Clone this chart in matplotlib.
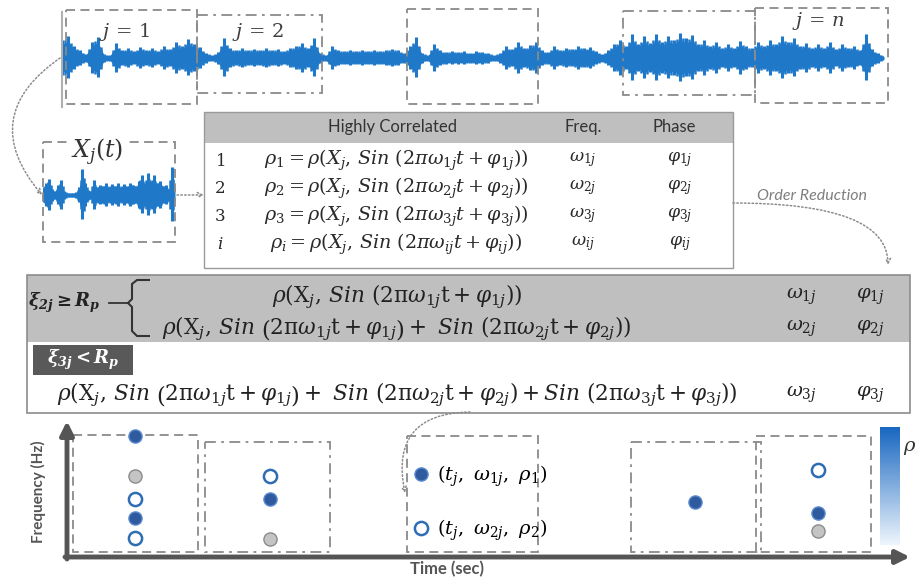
import numpy as np
import matplotlib.pyplot as plt
from matplotlib.patches import Rectangle, FancyArrowPatch, PathPatch
from matplotlib.path import Path
from matplotlib.lines import Line2D
from matplotlib.colors import LinearSegmentedColormap
from matplotlib.colorbar import ColorbarBase

plt.rcParams['mathtext.fontset'] = 'custom'
plt.rcParams['mathtext.rm'] = 'DejaVu Serif'
plt.rcParams['mathtext.it'] = 'DejaVu Serif:italic'
plt.rcParams['mathtext.bf'] = 'DejaVu Serif:italic:bold'
plt.rcParams['font.family'] = ['Lato', 'DejaVu Sans']

# ---- data -------------------------------------------------------------
# envelope of the full recording (half amplitude, one sample every 6 px)
signal_amp = [18, 22, 12, 8, 4, 16, 21, 4, 3, 15, 8, 10, 7, 11, 8, 10, 7, 12, 9, 16,
              12, 19, 14, 11, 5, 3, 6, 20, 10, 8, 10, 8, 9, 8, 10, 8, 9, 7, 10, 12,
              15, 10, 20, 5, 3, 12, 8, 7, 8, 7, 8, 7, 8, 7, 8, 9, 8, 5, 12, 21,
              5, 3, 14, 8, 6, 7, 6, 7, 5, 7, 6, 5, 3, 5, 12, 9, 16, 10, 13, 16,
              8, 6, 12, 8, 10, 9, 12, 10, 11, 7, 4, 8, 14, 18, 12, 24, 14, 22, 15, 24,
              16, 22, 18, 25, 20, 23, 14, 18, 12, 16, 10, 14, 10, 17, 12, 10, 16, 12, 18, 14,
              22, 16, 20, 12, 15, 10, 14, 10, 16, 9, 14, 10, 12, 8, 24, 9, 5, 2]
# envelope of one window X_j(t) (one sample every 3 px)
window_amp = [8, 12, 16, 6, 4, 10, 15, 4, 2, 2, 2, 3, 8, 26, 12, 5, 4, 15, 8, 10,
              9, 12, 8, 11, 9, 12, 8, 11, 9, 12, 10, 9, 14, 20, 12, 22, 14, 20, 12, 14,
              9, 10, 6, 28, 8]

row_ids = ['1', '2', '3', 'i']
row_formulas = [r'$\rho_1 = \rho(X_j,\,Sin\ (2\pi\omega_{1j}t + \varphi_{1j}))$',
                r'$\rho_2 = \rho(X_j,\,Sin\ (2\pi\omega_{2j}t + \varphi_{2j}))$',
                r'$\rho_3 = \rho(X_j,\,Sin\ (2\pi\omega_{3j}t + \varphi_{3j}))$',
                r'$\rho_i = \rho(X_j,\,Sin\ (2\pi\omega_{ij}t + \varphi_{ij}))$']
row_freq = [r'$\omega_{1j}$', r'$\omega_{2j}$', r'$\omega_{3j}$', r'$\omega_{ij}$']
row_phase = [r'$\varphi_{1j}$', r'$\varphi_{2j}$', r'$\varphi_{3j}$', r'$\varphi_{ij}$']

red_formulas = [r'$\rho(\mathrm{X}_j,\,Sin\ (2\mathrm{\pi}\omega_{1j}\mathrm{t} + \varphi_{1j}))$',
                r'$\rho(\mathrm{X}_j,\,Sin\ \left(2\mathrm{\pi}\omega_{1j}\mathrm{t} + \varphi_{1j}\right) +\ Sin\ (2\mathrm{\pi}\omega_{2j}\mathrm{t} + \varphi_{2j}))$',
                r'$\rho(\mathrm{X}_j,\,Sin\ \left(2\mathrm{\pi}\omega_{1j}\mathrm{t} + \varphi_{1j}\right) +\ Sin\ (2\mathrm{\pi}\omega_{2j}\mathrm{t} + \varphi_{2j}) + Sin\ (2\mathrm{\pi}\omega_{3j}\mathrm{t} + \varphi_{3j}))$']
red_freq = [r'$\omega_{1j}$', r'$\omega_{2j}$', r'$\omega_{3j}$']
red_phase = [r'$\varphi_{1j}$', r'$\varphi_{2j}$', r'$\varphi_{3j}$']

# time-frequency points (time in s, frequency in Hz, kind)
dot_time = [0.81, 0.81, 0.81, 0.81, 0.81, 2.42, 2.42, 2.42, 7.49, 8.95, 8.95, 8.95]
dot_freq = [92, 62, 44, 30, 15, 62, 44, 14, 42, 66, 34, 20]
dot_kind = ['rho1', 'gray', 'rho2', 'rho1', 'rho2',
            'rho2', 'rho1', 'gray',
            'rho1',
            'rho2', 'rho1', 'gray']

# ---- styles -----------------------------------------------------------
W, H = 918, 580
BLUE_SIG = '#1f78c8'
DOT_BLUE = '#2f5a9e'
OPEN_BLUE = '#2e6db4'
BOX_GRAY = '#8a8a8a'
AX_GRAY = '#555555'
TXT = '#2a2a2a'
DASH = (0, (5, 3))
DASHDOT = (0, (6, 3, 1.5, 3))

fig = plt.figure(figsize=(W / 100, H / 100), dpi=100, facecolor='white')
ax = fig.add_axes([0, 0, 1, 1])
ax.set_xlim(0, W)
ax.set_ylim(H, 0)
ax.axis('off')
ax.set_zorder(2)


def px_axes(x0, y0, x1, y1):
    return fig.add_axes([x0 / W, 1 - y1 / H, (x1 - x0) / W, (y1 - y0) / H])


def box(x0, y0, x1, y1, ls, color=BOX_GRAY, lw=1.3):
    ax.add_patch(Rectangle((x0, y0), x1 - x0, y1 - y0, fill=False, ls=ls,
                           ec=color, lw=lw))


def dotted_arrow(p0, p1, style):
    ax.add_patch(FancyArrowPatch(p0, p1, connectionstyle=style, arrowstyle='->',
                                 mutation_scale=9, lw=1.1, ls=(0, (1, 1.5)),
                                 color='#8c8c8c', shrinkA=0, shrinkB=0))


def draw_signal(a, amp, step):
    amp = np.array(amp, dtype=float)
    t = np.arange(len(amp)) * step
    nxt = np.roll(amp, -1)
    # body of the bursts plus the individual spikes
    a.fill_between(t, -amp * 0.75, amp * 0.7, color=BLUE_SIG, lw=0)
    a.vlines(t, -amp, amp * 0.92, color=BLUE_SIG, lw=2.2)
    a.vlines(t + step / 2, -(amp + nxt) * 0.45, (amp + nxt) * 0.42, color=BLUE_SIG, lw=1.8)
    a.plot(t, np.zeros_like(t), color=BLUE_SIG, lw=1.2)
    a.set_xlim(t[0], t[-1])
    a.axis('off')


# ---- top signal and windows --------------------------------------------
ax_sig = px_axes(62, 18, 884, 98)
ax_sig.set_ylim(40, -40)
draw_signal(ax_sig, signal_amp, 6)
ax_sig.set_zorder(1)

ax.plot([62, 62], [12, 107], color='#b0b0b0', lw=1.5)
box(66, 10, 197, 104, DASH)
box(197, 15, 322, 93, DASHDOT)
box(407, 9, 538, 104, DASH)
box(623, 11, 755, 95, DASHDOT)
box(755, 8, 888, 103, DASH)
for x, y, s in [(125, 32, r'$j\,=\,1$'), (258, 32, r'$j\,=\,2$'), (818, 21, r'$j\,=\,n$')]:
    ax.text(x, y, s, fontsize=14, color='#404040', ha='center', va='center')

# ---- selected window X_j(t) ------------------------------------------------
ax_win = px_axes(43, 160, 175, 230)
ax_win.set_ylim(35, -35)
draw_signal(ax_win, window_amp, 3)
ax_win.set_zorder(1)
box(43, 142, 175, 242, DASH)
ax.text(97, 152, '$X_j(t)$', fontsize=17, color='#333333', ha='center', va='center',
        bbox=dict(fc='white', ec='none', pad=1))

dotted_arrow((60, 58), (42, 195), 'arc3,rad=0.55')
dotted_arrow((177, 195), (204, 195), 'arc3,rad=0')

# ---- correlation table -----------------------------------------------------
ax.add_patch(Rectangle((204, 112), 529, 31, fc='#bfbfbf', ec='none'))
ax.add_patch(Rectangle((204, 112), 529, 156, fill=False, ec='#9a9a9a', lw=1))
ax.text(392, 127, 'Highly Correlated', fontsize=12, ha='center', va='center', color='#333333')
ax.text(583, 127, 'Freq.', fontsize=12, ha='center', va='center', color='#333333')
ax.text(674, 127, 'Phase', fontsize=12, ha='center', va='center', color='#333333')
for k, y in enumerate([160, 188, 216, 244]):
    ax.text(220, y, '$' + row_ids[k] + '$', fontsize=12, ha='center', va='center', color=TXT)
    ax.text(396, y, row_formulas[k], fontsize=13.8, ha='center', va='center', color=TXT)
    ax.text(583, y, row_freq[k], fontsize=12.5, ha='center', va='center', color=TXT)
    ax.text(680, y, row_phase[k], fontsize=12.5, ha='center', va='center', color=TXT)

ax.text(812, 196, 'Order Reduction', fontsize=11.5, style='italic', color='#7f7f7f',
        ha='center', va='center')
dotted_arrow((733, 203), (888, 265), 'angle3,angleA=0,angleB=90')

# ---- order reduction box -------------------------------------------------------
ax.add_patch(Rectangle((27, 275), 883, 67, fc='#bfbfbf', ec='none'))
ax.add_patch(Rectangle((27, 275), 883, 138, fill=False, ec='#8c8c8c', lw=1.2))
ax.text(28, 303, r'$\mathbf{\xi_{2j} \geq R_p}$', fontsize=13, ha='left', va='center', color='#222222')
ax.plot([109, 128], [303, 303], color='#333333', lw=1.3)
brace = Path([(150, 280), (137, 280), (132, 284), (132, 299), (128, 303), (132, 307),
              (132, 331), (137, 336), (150, 336)])
ax.add_patch(PathPatch(brace, fill=False, ec='#333333', lw=1.5))
ax.add_patch(Rectangle((33, 345), 100, 30, fc='#595959', ec='none'))
ax.text(83, 360, r'$\mathbf{\xi_{3j} < R_p}$', fontsize=13, ha='center', va='center', color='white')
for k, y in enumerate([297, 329, 395]):
    ax.text(397, y, red_formulas[k], fontsize=15.6, ha='center', va='center', color='#222222')
    ax.text(801, y, red_freq[k], fontsize=14, ha='center', va='center', color='#222222')
    ax.text(870, y, red_phase[k], fontsize=14, ha='center', va='center', color='#222222')

dotted_arrow((470, 412), (405, 493), 'arc3,rad=0.6')

# ---- time-frequency plane --------------------------------------------------
box(73, 435, 198, 552, DASH)
box(205, 442, 330, 552, DASHDOT)
box(407, 436, 538, 552, DASH)
box(631, 442, 761, 552, DASHDOT)
box(756, 436, 871, 552, DASH)

ax.annotate('', xy=(67, 421), xytext=(67, 559),
            arrowprops=dict(arrowstyle='-|>', lw=3.5, color=AX_GRAY, mutation_scale=20,
                            shrinkA=0, shrinkB=0))
ax.annotate('', xy=(910, 557), xytext=(65, 557),
            arrowprops=dict(arrowstyle='-|>', lw=3.5, color=AX_GRAY, mutation_scale=20,
                            shrinkA=0, shrinkB=0))
ax.text(38, 492, 'Frequency (Hz)', rotation=90, fontsize=11, fontweight='bold',
        color=AX_GRAY, ha='center', va='center')
ax.text(447, 569, 'Time (sec)', fontsize=12, fontweight='bold', color=AX_GRAY,
        ha='center', va='center')

ax_tf = px_axes(67, 425, 906, 558)
ax_tf.set_xlim(0, 10)
ax_tf.set_ylim(0, 100)
ax_tf.axis('off')
ax_tf.set_zorder(3)
kind_style = {'rho1': dict(c=DOT_BLUE, edgecolors='#5b8bd0', linewidths=1.0),
              'rho2': dict(c='white', edgecolors=OPEN_BLUE, linewidths=1.8),
              'gray': dict(c='#c4c4c4', edgecolors='#8c8c8c', linewidths=1.0)}
for kind, st in kind_style.items():
    tt = [t for t, k in zip(dot_time, dot_kind) if k == kind]
    ff = [f for f, k in zip(dot_freq, dot_kind) if k == kind]
    ax_tf.scatter(tt, ff, s=90, zorder=3, **st)

h1 = Line2D([], [], ls='none', marker='o', ms=9.5, mfc=DOT_BLUE, mec='#5b8bd0', mew=1.0)
h2 = Line2D([], [], ls='none', marker='o', ms=9.5, mfc='white', mec=OPEN_BLUE, mew=1.8)
ax.legend([h1, h2], [r'$(t_j,\ \omega_{1j},\ \rho_1)$', r'$(t_j,\ \omega_{2j},\ \rho_2)$'],
          loc='upper left', bbox_to_anchor=(413, 464), bbox_transform=ax.transData,
          frameon=False, fontsize=14, handlelength=0.8, handletextpad=0.45,
          labelspacing=1.45, borderaxespad=0, borderpad=0)

cmap = LinearSegmentedColormap.from_list('rho', ['#eef5fc', '#1766c0'])
ax_cb = px_axes(880, 427, 900, 545)
cb = ColorbarBase(ax_cb, cmap=cmap, orientation='vertical')
cb.set_ticks([])
cb.outline.set_visible(False)
ax.text(903, 448, r'$\rho$', fontsize=14, color='#333333', ha='left', va='center')

fig.savefig('out.png', dpi=100, facecolor='white')
